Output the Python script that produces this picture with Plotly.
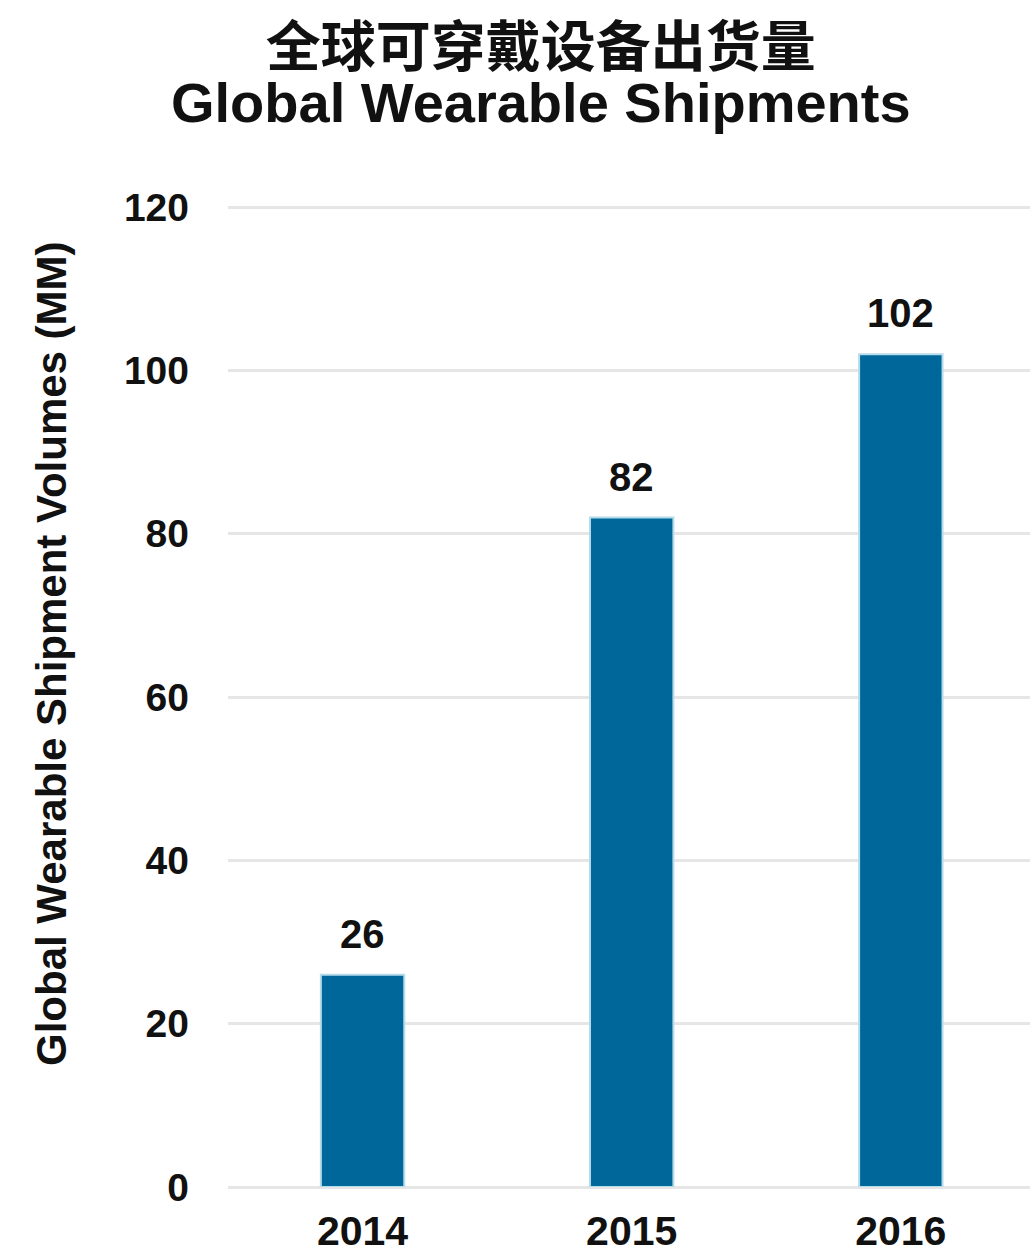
import plotly.graph_objects as go

# Global wearable device shipments, millions of units
years = ["2014", "2015", "2016"]
shipments = [26, 82, 102]
y_ticks = [0, 20, 40, 60, 80, 100, 120]

title_cn = "全球可穿戴设备出货量"
title_en = "Global Wearable Shipments"
y_title = "Global Wearable Shipment Volumes (MM)"

BAR_COLOR = "#00679b"
EDGE_COLOR = "#b5dcea"
GRID_COLOR = "#e6e6e6"
TEXT_COLOR = "#111111"
FONT = "Liberation Sans, Arial, sans-serif"
CJK_FONT = "Noto Sans CJK SC"

W, H = 1030, 1257
M_L, M_R, M_T, M_B = 228, 0, 204, 70

fig = go.Figure(
    go.Bar(
        x=years,
        y=shipments,
        width=0.31,
        marker=dict(color=BAR_COLOR, line=dict(color=EDGE_COLOR, width=2)),
        hoverinfo="x+y",
    )
)

# Value labels above each bar (category position given by index)
for i, v in enumerate(shipments):
    fig.add_annotation(
        x=i, y=v, text=f"<b>{v}</b>", showarrow=False,
        yanchor="middle", yshift=41,
        font=dict(family=FONT, size=40, color=TEXT_COLOR),
    )

# Two-line title in one text block; line pitch follows the base font size
title_html = (
    f"<span style='font-family:{CJK_FONT};font-size:55px'><b>{title_cn}</b></span>"
    f"<br><span style='font-size:56px'><b>{title_en}</b></span>"
)
fig.add_annotation(
    xref="paper", yref="paper", x=(541 - M_L) / (W - M_L - M_R),
    y=1 + (M_T - 0) / (H - M_T - M_B),
    text=title_html, showarrow=False, xanchor="center", yanchor="top",
    font=dict(family=FONT, size=43, color=TEXT_COLOR),
)

# Rotated y-axis title
fig.add_annotation(
    xref="paper", yref="paper", x=(51 - M_L) / (W - M_L - M_R),
    y=1 - (654 - M_T) / (H - M_T - M_B),
    text=f"<b>{y_title}</b>", showarrow=False, textangle=-90,
    xanchor="center", yanchor="middle",
    font=dict(family=FONT, size=42, color=TEXT_COLOR),
)

fig.update_layout(
    width=W,
    height=H,
    paper_bgcolor="white",
    plot_bgcolor="white",
    margin=dict(l=M_L, r=M_R, t=M_T, b=M_B),
    showlegend=False,
    xaxis=dict(
        type="category",
        range=[-0.5, 2.48],
        automargin=False,
        showgrid=False,
        showline=False,
        ticks="",
        ticklabelstandoff=16,
        tickfont=dict(family=FONT, size=41, color=TEXT_COLOR, weight="bold"),
    ),
    yaxis=dict(
        range=[0, 120.4],
        tickvals=y_ticks,
        automargin=False,
        showgrid=True,
        gridcolor=GRID_COLOR,
        gridwidth=3,
        zeroline=True,
        zerolinecolor=GRID_COLOR,
        zerolinewidth=3,
        showline=False,
        ticks="",
        ticklabelstandoff=38,
        tickfont=dict(family=FONT, size=39, color=TEXT_COLOR, weight="bold"),
    ),
)

fig.write_html("out.html")
